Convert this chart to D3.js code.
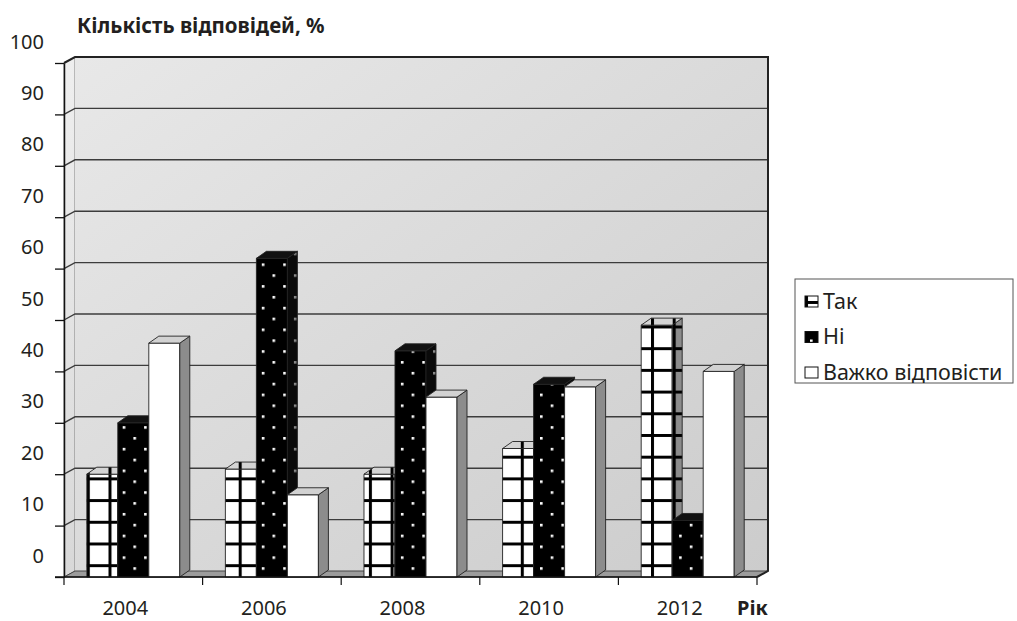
<!DOCTYPE html>
<html>
<head>
<meta charset="utf-8">
<script src="https://cdn.jsdelivr.net/npm/d3@7"></script>
<style>
	body { margin: 0; background: #fff; }
	svg { display: block; }
	text { font-family: "Noto Sans", sans-serif; fill: #231f20; }
</style>
</head>
<body>
<svg id="chart" width="1017" height="621"></svg>
<script>
	const years = ["2004", "2006", "2008", "2010", "2012"];
	const seriesNames = ["Так", "Ні", "Важко відповісти"];
	const tak = [20, 21, 20, 25, 49];
	const ni = [30, 62, 44, 37.5, 11];
	const vazhko = [45.5, 16, 35, 37, 40];
	const yTicks = [0, 10, 20, 30, 40, 50, 60, 70, 80, 90, 100];

	const series = [tak, ni, vazhko];

	const svg = d3.select("#chart");
	const defs = svg.append("defs");

	const plot = {left: 64, right: 757, top: 63, bottom: 577};
	const wall = {dx: 11, dy: -6};   // depth of the walls
	const bar = {dx: 10, dy: -7};    // depth of the columns

	let x = d3.scaleBand()
		.domain(years)
		.range([plot.left, plot.right]);

	let xs = d3.scaleBand()
		.domain(seriesNames)
		.range([0, x.bandwidth()])
		.paddingInner(0)
		.paddingOuter(0.735);

	let y = d3.scaleLinear()
		.domain([0, 100])
		.range([plot.bottom, plot.top]);

	// gradients for walls
	const backGrad = defs.append("linearGradient").attr("id", "backGrad")
		.attr("x1", 0).attr("y1", 0).attr("x2", 1).attr("y2", 1);
	backGrad.append("stop").attr("offset", 0).attr("stop-color", "#e8e8e8");
	backGrad.append("stop").attr("offset", 1).attr("stop-color", "#cccccc");

	const sideGrad = defs.append("linearGradient").attr("id", "sideGrad")
		.attr("x1", 0).attr("y1", 0).attr("x2", 0).attr("y2", 1);
	sideGrad.append("stop").attr("offset", 0).attr("stop-color", "#efefef");
	sideGrad.append("stop").attr("offset", 1).attr("stop-color", "#d8d8d8");

	// hatch patterns
	function gridPattern (id, bg) {
		const p = defs.append("pattern").attr("id", id)
			.attr("patternUnits", "userSpaceOnUse")
			.attr("width", 21.7).attr("height", 21.7);
		p.append("rect").attr("width", 21.7).attr("height", 21.7).attr("fill", bg);
		p.append("path").attr("d", "M1.5,0V21.7M0,1.5H21.7")
			.attr("stroke", "#000").attr("stroke-width", 3);
	}
	function dotPattern (id, bg, dot) {
		const p = defs.append("pattern").attr("id", id)
			.attr("patternUnits", "userSpaceOnUse")
			.attr("width", 21.4).attr("height", 21.7)
			.attr("x", 5).attr("y", 3);
		p.append("rect").attr("width", 21.4).attr("height", 21.7).attr("fill", bg);
		p.append("rect").attr("x", 0).attr("y", 0).attr("width", 2.6).attr("height", 2.6).attr("fill", dot);
		p.append("rect").attr("x", 10.7).attr("y", 10.85).attr("width", 2.6).attr("height", 2.6).attr("fill", dot);
	}
	gridPattern("takFront", "#fff");
	gridPattern("takSide", "#8c8c8c");
	gridPattern("takTop", "#d4d4d4");
	dotPattern("niFront", "#000", "#fff");
	dotPattern("niSide", "#0a0a0a", "#8c8c8c");

	const fills = [
		{front: "url(#takFront)", side: "url(#takSide)", top: "url(#takTop)"},
		{front: "url(#niFront)", side: "url(#niSide)", top: "#111"},
		{front: "#fff", side: "#8c8c8c", top: "#d2d2d2"}
	];

	function pts (arr) {
		return arr.map(p => p.join(",")).join(" ");
	}

	// side wall
	svg.append("polygon")
		.attr("points", pts([
			[plot.left, y(0)], [plot.left, y(100)],
			[plot.left + wall.dx, y(100) + wall.dy], [plot.left + wall.dx, y(0) + wall.dy]
		]))
		.attr("fill", "url(#sideGrad)")
		.attr("stroke", "#666").attr("stroke-width", 0.8);

	// back wall
	svg.append("rect")
		.attr("x", plot.left + wall.dx)
		.attr("y", y(100) + wall.dy)
		.attr("width", plot.right - plot.left)
		.attr("height", y(0) - y(100))
		.attr("fill", "url(#backGrad)");

	// gridlines on back and side walls
	const grid = svg.append("g")
		.attr("stroke", "#3c3c3c")
		.attr("stroke-width", 1.4)
		.attr("fill", "none");

	grid.selectAll("path")
		.data(yTicks.filter(t => t > 0 && t < 100))
		.join("path")
		.attr("d", t => "M" + plot.left + "," + y(t) +
			"L" + (plot.left + wall.dx) + "," + (y(t) + wall.dy) +
			"H" + (plot.right + wall.dx));

	// floor
	svg.append("polygon")
		.attr("points", pts([
			[plot.left, y(0)], [plot.right, y(0)],
			[plot.right + wall.dx, y(0) + wall.dy], [plot.left + wall.dx, y(0) + wall.dy]
		]))
		.attr("fill", "#9c9c9c")
		.attr("stroke", "#444").attr("stroke-width", 1);

	// wall edges
	svg.append("path")
		.attr("d", "M" + plot.left + "," + y(100) +
			"L" + (plot.left + wall.dx) + "," + (y(100) + wall.dy) +
			"H" + (plot.right + wall.dx) +
			"V" + (y(0) + wall.dy) +
			"L" + plot.right + "," + y(0))
		.attr("fill", "none")
		.attr("stroke", "#222")
		.attr("stroke-width", 2);

	// columns
	const bars = svg.append("g")
		.attr("stroke", "#222")
		.attr("stroke-width", 0.9)
		.attr("stroke-linejoin", "round");

	years.forEach(function (yr, i) {
		series.forEach(function (vals, s) {
			const x0 = x(yr) + xs(seriesNames[s]);
			const w = xs.bandwidth();
			const yt = y(vals[i]);
			const yb = y(0);
			const f = fills[s];

			bars.append("rect")
				.attr("x", x0).attr("y", yt)
				.attr("width", w).attr("height", yb - yt)
				.attr("fill", f.front);

			bars.append("polygon")
				.attr("points", pts([
					[x0 + w, yt], [x0 + w + bar.dx, yt + bar.dy],
					[x0 + w + bar.dx, yb + bar.dy], [x0 + w, yb]
				]))
				.attr("fill", f.side);

			bars.append("polygon")
				.attr("points", pts([
					[x0, yt], [x0 + bar.dx, yt + bar.dy],
					[x0 + w + bar.dx, yt + bar.dy], [x0 + w, yt]
				]))
				.attr("fill", f.top);
		});
	});

	// value axis
	const yAxis = svg.append("g")
		.attr("transform", "translate(" + plot.left + ",0)")
		.call(d3.axisLeft(y).tickValues(yTicks).tickSize(9).tickSizeOuter(0).tickPadding(11));

	yAxis.select(".domain").attr("stroke", "#111").attr("stroke-width", 1.5);
	yAxis.selectAll(".tick line").attr("stroke", "#111").attr("stroke-width", 1.3);
	yAxis.selectAll(".tick text")
		.attr("dy", "-0.75em")
		.style("font-size", "20px")
		.style("font-family", "Noto Sans");

	// category axis
	svg.append("line")
		.attr("x1", plot.left - 9).attr("x2", plot.right)
		.attr("y1", y(0)).attr("y2", y(0))
		.attr("stroke", "#111").attr("stroke-width", 1.3);

	svg.append("g")
		.attr("stroke", "#111").attr("stroke-width", 1.2)
		.selectAll("line")
		.data(years.map(d => x(d)).concat([plot.right]))
		.join("line")
		.attr("x1", d => d).attr("x2", d => d)
		.attr("y1", y(0)).attr("y2", y(0) + 8);

	svg.append("g")
		.selectAll("text")
		.data(years)
		.join("text")
		.attr("x", d => x(d) + x.bandwidth() / 2 - 8)
		.attr("y", 615)
		.attr("text-anchor", "middle")
		.style("font-size", "20px")
		.text(d => d);

	// titles
	svg.append("text")
		.attr("x", 77).attr("y", 33)
		.style("font-size", "20.5px")
		.style("font-weight", "bold")
		.text("Кількість відповідей, %");

	svg.append("text")
		.attr("x", 737).attr("y", 615)
		.style("font-size", "20px")
		.style("font-weight", "bold")
		.text("Рік");

	// legend
	const legend = svg.append("g").attr("transform", "translate(795,279)");

	legend.append("rect")
		.attr("width", 218).attr("height", 104)
		.attr("fill", "#fff")
		.attr("stroke", "#555").attr("stroke-width", 1);

	const item = legend.selectAll(".item")
		.data(seriesNames)
		.join("g")
		.attr("class", "item")
		.attr("transform", (d, i) => "translate(10," + (22 + i * 35.5) + ")");

	item.append("rect")
		.attr("x", 0).attr("y", -5)
		.attr("width", 13).attr("height", 11)
		.attr("fill", (d, i) => fills[i].front)
		.attr("stroke", "#111").attr("stroke-width", 1);

	item.append("text")
		.attr("x", 18).attr("y", 7.5)
		.style("font-size", "21.5px")
		.text(d => d);
</script>
</body>
</html>
